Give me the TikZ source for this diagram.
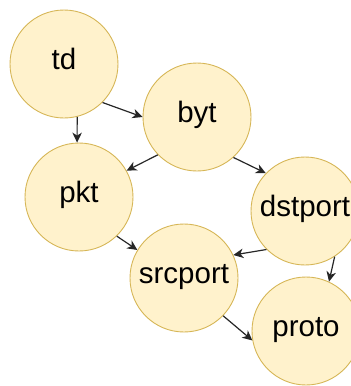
\documentclass[tikz,border=0pt]{standalone}
\usepackage{fontspec}
\setmainfont{Liberation Sans}
\usetikzlibrary{arrows.meta}
\definecolor{nodefill}{HTML}{FFF2CC}
\definecolor{nodeline}{HTML}{D6B656}
\tikzset{
  state/.style={circle, draw=nodeline, fill=nodefill, line width=0.9pt,
    minimum size=108pt, inner sep=0pt, text height=21pt, text depth=11pt,
    font=\fontsize{29.5}{32}\selectfont},
  link/.style={draw=black!85, line width=1.2pt,
    -{Stealth[length=10pt,width=9.5pt,inset=3pt]}}
}
\begin{document}
\begin{tikzpicture}[x=1pt,y=-1pt]
  \useasboundingbox (0,0) rectangle (351,386);
  \clip (0,0) rectangle (351,386);
  \node[state] (td) at (64,64) {td};
  \node[state] (byt) at (197,117) {byt};
  \node[state] (pkt) at (79,197) {pkt};
  \node[state] (dst) at (305,211) {dstport};
  \node[state] (src) at (184,278) {srcport};
  \node[state] (proto) at (306,331) {proto};
  % edges between boundary points
  \draw[link] (td.-76) -- (pkt.92);
  \draw[link] (td.-45) -- (byt.180);
  \draw[link] (byt.-136) -- (pkt.29);
  \draw[link] (byt.-48) -- (dst.136);
  \draw[link] (dst.-135) -- (src.25);
  \draw[link] (dst.-57) -- (proto.65);
  \draw[link] (pkt.-46) -- (src.149);
  \draw[link] (src.-44) -- (proto.-170);
\end{tikzpicture}
\end{document}
